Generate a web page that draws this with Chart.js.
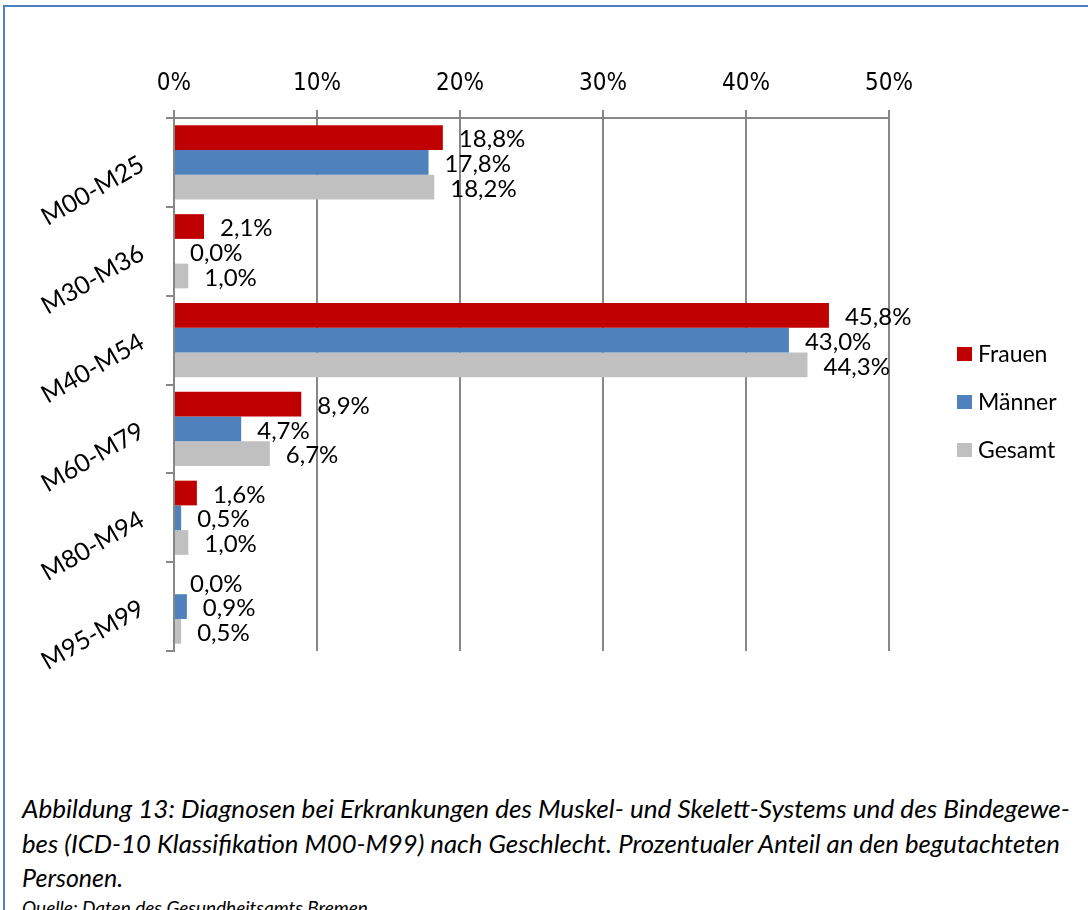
<!DOCTYPE html>
<html>
<head>
<meta charset="utf-8">
<script src="https://cdn.jsdelivr.net/npm/chart.js@4.4.1/dist/chart.umd.min.js"></script>
<style>
    html, body { margin: 0; padding: 0; background: #fff; overflow: hidden; width: 1088px; height: 910px; }
    #frame { position: absolute; left: 3px; top: 5px; width: 1200px; height: 1000px; border: 2px solid #4f81bd; box-sizing: border-box; }
    #chartCanvas { position: absolute; left: 0; top: 0; }
    .capline { position: absolute; left: 22px; font-family: Lato, sans-serif; font-style: italic; font-size: 25px; line-height: 30px; color: #000; white-space: nowrap; transform-origin: 0 0; }
</style>
</head>
<body>
<div id="frame"></div>
<canvas id="chartCanvas" width="1088" height="700"></canvas>
<span class="capline" data-w="1048" style="top:793px">Abbildung 13: Diagnosen bei Erkrankungen des Muskel- und Skelett-Systems und des Bindegewe-</span>
<span class="capline" data-w="1038" style="top:828px">bes (ICD-10 Klassifikation M00-M99) nach Geschlecht. Prozentualer Anteil an den begutachteten</span>
<span class="capline" style="top:862px">Personen.</span>
<span class="capline" style="top:893px; font-size:19px">Quelle: Daten des Gesundheitsamts Bremen</span>
<script>
    //Data
    let categories = ['M00-M25', 'M30-M36', 'M40-M54', 'M60-M79', 'M80-M94', 'M95-M99'];
    let seriesNames = ['Frauen', 'Männer', 'Gesamt'];
    let frauenValues = [18.8, 2.1, 45.8, 8.9, 1.6, 0.0];
    let maennerValues = [17.8, 0.0, 43.0, 4.7, 0.5, 0.9];
    let gesamtValues = [18.2, 1.0, 44.3, 6.7, 1.0, 0.5];
    let xTicks = [0, 10, 20, 30, 40, 50];

    let seriesColors = ['#c00000', '#4f81bd', '#c0c0c0'];
    let gridColor = '#878787';

    //Squeeze caption lines to the width they have in the report
    document.querySelectorAll('.capline[data-w]').forEach(function (el) {
        let w = el.getBoundingClientRect().width;
        el.style.transform = 'scaleX(' + (parseFloat(el.dataset.w) / w) + ')';
    });

    //Value labels to the right of each bar
    let valueLabels = {
        id: 'valueLabels',
        afterDatasetsDraw: function (chart) {
            let ctx = chart.ctx;
            ctx.save();
            ctx.font = '24px Lato';
            ctx.fillStyle = '#000';
            ctx.textAlign = 'left';
            ctx.textBaseline = 'middle';
            chart.data.datasets.forEach(function (ds, i) {
                chart.getDatasetMeta(i).data.forEach(function (bar, j) {
                    let txt = ds.data[j].toFixed(1).replace('.', ',') + '%';
                    ctx.fillText(txt, bar.x + 16, bar.y + 2);
                });
            });
            ctx.restore();
        }
    };

    //Legend on the right, Excel style
    let sideLegend = {
        id: 'sideLegend',
        afterDraw: function (chart) {
            let ctx = chart.ctx;
            ctx.save();
            ctx.font = '23px Lato';
            ctx.textAlign = 'left';
            ctx.textBaseline = 'middle';
            chart.data.datasets.forEach(function (ds, i) {
                let cy = 354 + i * 48;
                ctx.fillStyle = ds.backgroundColor;
                ctx.fillRect(957, cy - 7, 15, 14);
                ctx.fillStyle = '#000';
                ctx.fillText(ds.label, 978, cy + 1);
            });
            ctx.restore();
        }
    };

    new Chart(document.getElementById('chartCanvas'), {
        type: 'bar',
        data: {
            labels: categories,
            datasets: [
                { label: seriesNames[0], data: frauenValues, backgroundColor: seriesColors[0] },
                { label: seriesNames[1], data: maennerValues, backgroundColor: seriesColors[1] },
                { label: seriesNames[2], data: gesamtValues, backgroundColor: seriesColors[2] }
            ]
        },
        options: {
            indexAxis: 'y',
            responsive: false,
            animation: false,
            devicePixelRatio: 1,
            categoryPercentage: 0.835,
            barPercentage: 1,
            layout: { padding: { top: 60, bottom: 49, left: 0, right: 199 } },
            plugins: {
                legend: { display: false },
                tooltip: { enabled: false }
            },
            scales: {
                x: {
                    position: 'top',
                    min: 0,
                    max: 50,
                    afterBuildTicks: function (scale) {
                        scale.ticks = xTicks.map(v => ({ value: v }));
                    },
                    afterFit: function (scale) {
                        scale.height = 58;
                    },
                    ticks: {
                        padding: 12,
                        color: '#000',
                        font: { family: '"DejaVu Sans Condensed", sans-serif', size: 24 },
                        callback: function (v) { return v + '%'; }
                    },
                    grid: { color: gridColor, lineWidth: 2, tickLength: 8, tickColor: gridColor },
                    border: { color: gridColor, width: 2 }
                },
                y: {
                    afterFit: function (scale) {
                        scale.width = 174;
                    },
                    ticks: {
                        minRotation: 30,
                        maxRotation: 30,
                        padding: 24,
                        color: '#000',
                        font: { family: 'Lato', size: 25 }
                    },
                    grid: { offset: true, drawOnChartArea: false, tickLength: 8, tickColor: gridColor, lineWidth: 2 },
                    border: { color: gridColor, width: 2 }
                }
            }
        },
        plugins: [valueLabels, sideLegend]
    });
</script>
</body>
</html>
